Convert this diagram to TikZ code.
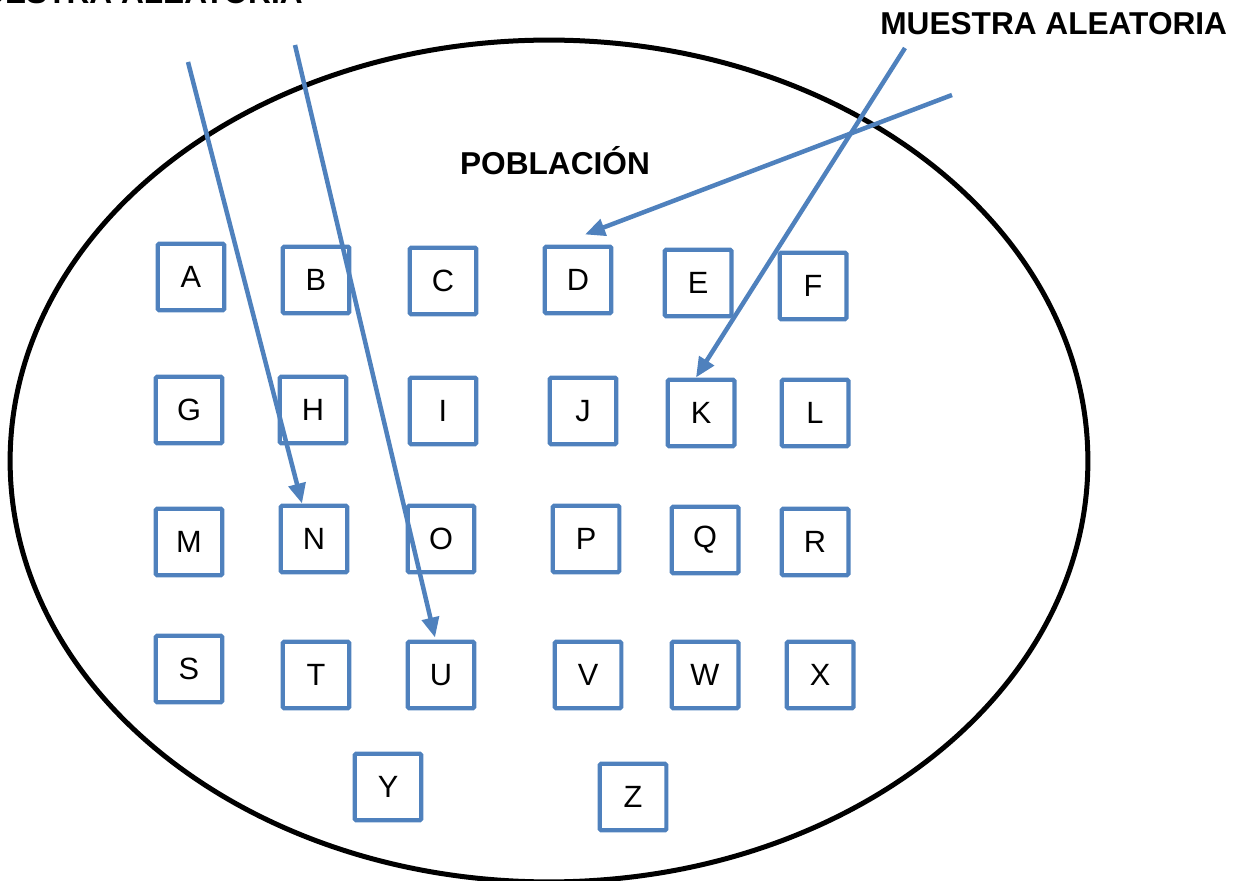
\documentclass[tikz,border=0pt]{standalone}
\usepackage{fontspec}
\setmainfont{Liberation Sans}
\usetikzlibrary{arrows.meta}
\definecolor{boxblue}{RGB}{79,129,189}
\begin{document}
\begin{tikzpicture}[x=0.02cm,y=-0.02cm,
  letterbox/.style={draw=boxblue,line width=0.085cm,rounded corners=0.03cm,minimum size=1.335cm,inner sep=0pt,font=\fontsize{17.5}{20}\selectfont},
  pick/.style={draw=boxblue,line width=0.09cm,-{Triangle[length=0.4cm,width=0.34cm]}},
  heading/.style={font=\bfseries\fontsize{18}{22}\selectfont,inner sep=0pt}]
\useasboundingbox (0,0) rectangle (1248,881);

\draw[line width=0.1cm] (549,461) ellipse [x radius=10.78cm, y radius=8.42cm];

\node[heading,anchor=base east] (muestraizq) at (303,4) {MUESTRA ALEATORIA};
\node[heading,anchor=base west] (muestrader) at (880,35) {MUESTRA ALEATORIA};
\node[heading,anchor=base] (poblacion) at (555,175) {POBLACIÓN};

% fila 1
\node[letterbox] (A) at (191,277) {A};
\node[letterbox] (B) at (316,280) {B};
\node[letterbox] (C) at (443,281) {C};
\node[letterbox] (D) at (578,280) {D};
\node[letterbox] (E) at (698,283) {E};
\node[letterbox] (F) at (813,286) {F};

% fila 2
\node[letterbox] (G) at (189,410) {G};
\node[letterbox] (H) at (313,410) {H};
\node[letterbox] (I) at (443,411) {I};
\node[letterbox] (J) at (583,411) {J};
\node[letterbox] (K) at (701,413) {K};
\node[letterbox] (L) at (815,413) {L};

% fila 3
\node[letterbox] (M) at (189,542) {M};
\node[letterbox] (N) at (314,539) {N};
\node[letterbox] (O) at (441,539) {O};
\node[letterbox] (P) at (586,539) {P};
\node[letterbox] (Q) at (705,540) {Q};
\node[letterbox] (R) at (815,542) {R};

% fila 4
\node[letterbox] (S) at (189,669) {S};
\node[letterbox] (T) at (316,675) {T};
\node[letterbox] (U) at (441,675) {U};
\node[letterbox] (V) at (588,675) {V};
\node[letterbox] (W) at (705,675) {W};
\node[letterbox] (X) at (820,675) {X};

% fila 5
\node[letterbox] (Y) at (388,787) {Y};
\node[letterbox] (Z) at (633,797) {Z};

% flechas
\coordinate (pN) at (188,62);
\coordinate (pU) at (295,45);
\coordinate (pK) at (905,48);
\coordinate (pD) at (952,95);
\draw[pick] (pN) -- ([xshift=-0.24cm]N.north);
\draw[pick] (pU) -- ([xshift=-0.12cm,yshift=0.04cm]U.north);
\draw[pick] (pK) -- ([xshift=-0.1cm]K.north);
\draw[pick] (pD) -- ([xshift=0.14cm,yshift=0.2cm]D.north);
\end{tikzpicture}
\end{document}
